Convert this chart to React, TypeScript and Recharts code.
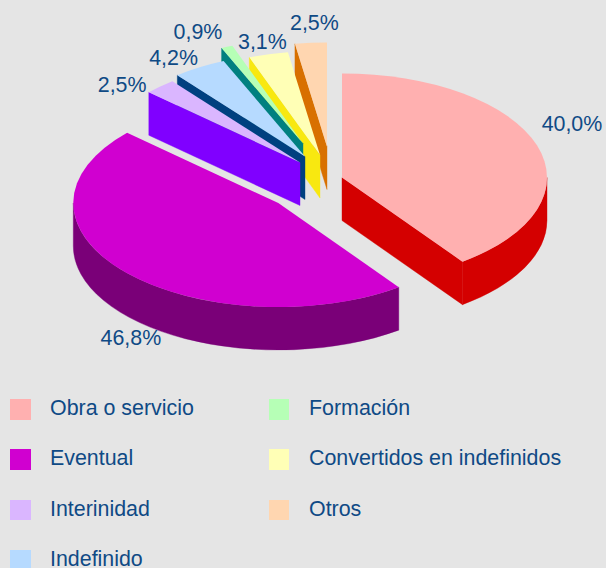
import React from "react";
import { PieChart, Pie, Legend } from "recharts";

const categories = ["Obra o servicio", "Eventual", "Interinidad", "Indefinido", "Formación", "Convertidos en indefinidos", "Otros"];
const shares = [40.0, 46.8, 2.5, 4.2, 0.9, 3.1, 2.5];
const shareLabels = ["40,0%", "46,8%", "2,5%", "4,2%", "0,9%", "3,1%", "2,5%"];

const topColors = ["#FFB0B0", "#D000D0", "#DAB6FF", "#B6DAFF", "#B6FFB6", "#FFFFB6", "#FFD6B0"];
const sideColors = ["#D40000", "#7A0078", "#8000FF", "#004080", "#008080", "#F8E810", "#D87000"];

// explosion offset of every slice from the pie centre
const explodeX = [42, -21.7, 0, 5, 3, 20, 27];
const explodeY = [7.5, 33, -7.5, -13.5, -26.5, -15, -23.5];
// label nudge from the slice's rim at its middle angle
const nudgeX = [35, 5.5, -38, -26, -29, -6, 3.5];
const nudgeY = [-21, 65.5, -1.5, -9, -14.5, -12, -20];

const W = 606;
const H = 568;
const CX = 300;
const CY = 170;
const RX = 205;
const RY = 104;
const DEPTH = 43;
const TEXT = "#0F4A85";
const FONT = "'Liberation Sans', Arial, sans-serif";
const FS = 21.4;

// back-most slice first; angles run counter-clockwise from 12 o'clock
const tableData = categories
  .map((name, i) => ({ name, value: shares[i], idx: i, fill: topColors[i] }))
  .reverse();

const rad = (d: number) => (d * Math.PI) / 180;
const pt = (cx: number, cy: number, a: number) => [cx + RX * Math.sin(rad(a)), cy - RY * Math.cos(rad(a))];

function arc(cx: number, cy: number, a: number, b: number, sweep = 1) {
  const [x, y] = pt(cx, cy, b);
  return `A${RX} ${RY} 0 ${Math.abs(b - a) > 180 ? 1 : 0} ${sweep} ${x} ${y}`;
}

function Slice3D(props: any) {
  const i = props.idx ?? props.payload?.idx;
  const cx = props.cx + explodeX[i];
  const cy = props.cy + explodeY[i];
  const span = props.endAngle - props.startAngle;
  const s = (((90 - props.endAngle) % 360) + 360) % 360;
  const e = s + span;
  const [sx, sy] = pt(cx, cy, s);
  const [ex, ey] = pt(cx, cy, e);
  const side = sideColors[i];
  const top = topColors[i];
  const face = (x: number, y: number) =>
    `M${cx} ${cy}L${x} ${y}L${x} ${y + DEPTH}L${cx} ${cy + DEPTH}Z`;
  const w0 = Math.max(s, 90);
  const w1 = Math.min(e, 270);
  let wall = "";
  if (w1 > w0) {
    const [ax, ay] = pt(cx, cy, w0);
    const [bx, by] = pt(cx, cy, w1);
    wall = `M${ax} ${ay}${arc(cx, cy, w0, w1)}L${bx} ${by + DEPTH}${arc(cx, cy + DEPTH, w1, w0, 0)}Z`;
  }
  return (
    <g>
      {Math.sin(rad(s)) < 0 && <path d={face(sx, sy)} fill={side} stroke={side} strokeWidth={0.4} />}
      {Math.sin(rad(e)) > 0 && <path d={face(ex, ey)} fill={side} stroke={side} strokeWidth={0.4} />}
      {wall && <path d={wall} fill={side} stroke={side} strokeWidth={0.4} />}
      <path d={`M${cx} ${cy}L${sx} ${sy}${arc(cx, cy, s, e)}Z`} fill={top} />
    </g>
  );
}

function ValueLabel(props: any) {
  const i = props.idx ?? props.payload?.idx;
  const mid = 90 - props.midAngle;
  const [x, y] = pt(props.cx + explodeX[i], props.cy + explodeY[i], mid);
  return (
    <text
      x={x + nudgeX[i]}
      y={y + nudgeY[i]}
      textAnchor="middle"
      dominantBaseline="central"
      fill={TEXT}
      fontFamily={FONT}
      fontSize={FS}
    >
      {shareLabels[i]}
    </text>
  );
}

const legendRows = 4;

function LegendBlock() {
  return (
    <div style={{ position: "absolute", left: 0, top: 0, width: W, height: H, overflow: "hidden" }}>
      {categories.map((name, i) => {
        const col = i < legendRows ? 0 : 1;
        const row = col === 0 ? i : i - legendRows;
        const top = 399 + row * 50.3;
        const left = col === 0 ? 10 : 269;
        return (
          <React.Fragment key={name}>
            <div
              style={{
                position: "absolute",
                left,
                top,
                width: col === 0 ? 21 : 20,
                height: 20.5,
                background: topColors[i],
              }}
            />
            <div
              style={{
                position: "absolute",
                left: left + 40,
                top: top - 3,
                lineHeight: "24px",
                fontFamily: FONT,
                fontSize: FS,
                color: TEXT,
                whiteSpace: "nowrap",
              }}
            >
              {name}
            </div>
          </React.Fragment>
        );
      })}
    </div>
  );
}

export default function App() {
  return (
    <div style={{ position: "absolute", left: 0, top: 0, width: W, height: H, background: "#E5E5E5", overflow: "hidden" }}>
      <PieChart width={W} height={H} margin={{ top: 0, right: 0, bottom: 0, left: 0 }}>
        <Legend
          content={<LegendBlock />}
          verticalAlign="top"
          align="left"
          wrapperStyle={{ position: "absolute", left: 0, top: 0, width: 0, height: 0, margin: 0 }}
        />
        <Pie
          data={tableData}
          dataKey="value"
          nameKey="name"
          cx={CX}
          cy={CY}
          innerRadius={0}
          outerRadius={RX}
          startAngle={90}
          endAngle={450}
          stroke="none"
          isAnimationActive={false}
          labelLine={false}
          label={<ValueLabel />}
          shape={<Slice3D />}
        />
      </PieChart>
    </div>
  );
}
